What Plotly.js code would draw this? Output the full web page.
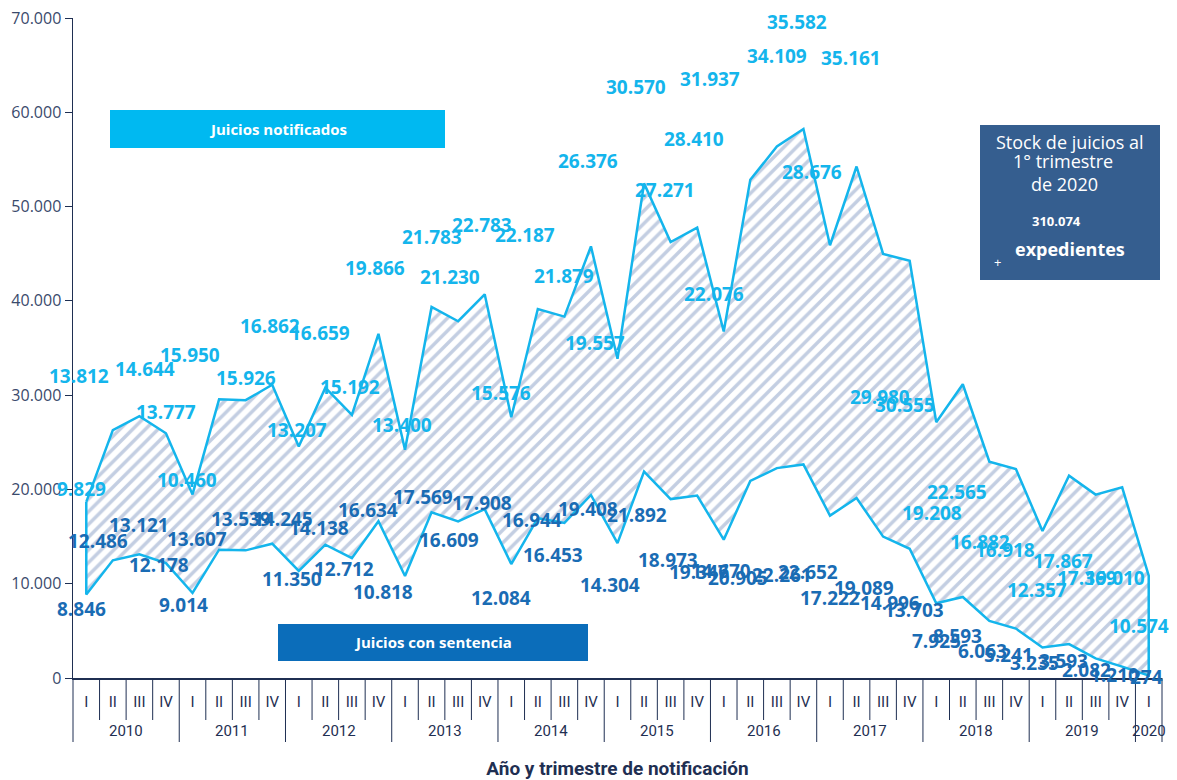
<!DOCTYPE html>
<html>
<head>
<meta charset="utf-8">
<script src="https://cdn.plot.ly/plotly-3.0.1.min.js"></script>
<style>
  html, body { margin: 0; padding: 0; background: #ffffff; }
  #chart { width: 1177px; height: 780px; }
</style>
</head>
<body>
<div id="chart"></div>
<script>
// ---------- DATA ----------
const years = ['2010','2011','2012','2013','2014','2015','2016','2017','2018','2019','2020'];
const quarters = ['I','II','III','IV'];
const nQuarters = 41;   // 2010-I ... 2020-I

// Juicios con sentencia (lower series)
const sentencia = [
  8846, 12486, 13121, 12178,
  9014, 13607, 13539, 14245,
  11350, 14138, 12712, 16634,
  10818, 17569, 16609, 17908,
  12084, 16944, 16453, 19408,
  14304, 21892, 18973, 19347,
  14670, 20905, 22261, 22652,
  17222, 19089, 14996, 13703,
  7925, 8593, 6063, 5241,
  3235, 3593, 2082, 1210,
  274
];
// Juicios notificados (stacked on top)
const notificados = [
  9829, 13812, 14644, 13777,
  10460, 15950, 15926, 16862,
  13207, 16659, 15192, 19866,
  13400, 21783, 21230, 22783,
  15576, 22187, 21879, 26376,
  19557, 30570, 27271, 28410,
  22076, 31937, 34109, 35582,
  28676, 35161, 29980, 30555,
  19208, 22565, 16882, 16918,
  12357, 17867, 17369, 19010,
  10574
];
const stockText = '310.074';

// ---------- LABEL PLACEMENT (pixel offsets, layout only) ----------
const notifDy = [-13,-54,-47,-21,-14,-44,-22,-59,-16,-55,-28,-66,-25,-70,-44,-69,-24,-74,-41,-85,-16,-96,-52,-89,-38,-101,-91,-107,-73,-109,143,144,91,108,80,81,59,85,83,91,50];
const notifDx = [-5,-34,6,0,-6,-29,0,-2,-2,-5,-2,-3,-3,0,-8,-3,-10,-13,0,-3,-23,-8,-6,-3,-10,-40,0,-6,-18,-6,-3,-5,-4,-6,-9,-11,-5,-6,-9,-7,-10];
const sentDy = [14,-19,-29,2,12,-11,-31,-25,8,-17,11,-11,16,-15,19,-6,34,2,32,14,42,43,61,76,31,97,107,108,82,90,66,61,38,39,30,26,15,17,12,8,2];
const sentDx = [-5,-15,0,-7,-9,-22,-5,11,-7,-6,-8,-10,-22,-9,-9,-3,-10,-6,-11,-3,-8,-7,-3,2,-3,-12,5,5,0,7,7,4,0,-5,-7,-7,-8,-6,-9,-8,-2];

// ---------- DERIVED ----------
const yearCat = [], quarterCat = [], cats = [];
for (let i = 0; i < nQuarters; i++) {
  yearCat.push(years[Math.floor(i / 4)]);
  quarterCat.push(quarters[i % 4]);
  cats.push(yearCat[i] + ' ' + quarterCat[i]);
}
const total = sentencia.map((s, i) => s + notificados[i]);

// closed polygon: top edge forward, bottom edge backward
const polyX = cats.concat(cats.slice().reverse(), [cats[0]]);
const polyY = total.concat(sentencia.slice().reverse(), [total[0]]);

const fmt = v => String(v).replace(/\B(?=(\d{3})+(?!\d))/g, '.');

const LIGHT = '#14b5ec';
const DARK = '#1a6cb4';
const NAVY = '#1f2f52';
const NARROW = 'Liberation Sans Narrow, Arial Narrow, Roboto, sans-serif';

const traces = [{
  type: 'scatter',
  mode: 'lines',
  x: polyX,
  y: polyY,
  fill: 'toself',
  fillcolor: '#ffffff',
  fillpattern: { shape: '/', fgcolor: '#c3cee2', bgcolor: '#ffffff', size: 9, solidity: 0.38 },
  line: { color: LIGHT, width: 2.5 },
  hoverinfo: 'skip',
  showlegend: false
}];

// ---------- geometry helpers (paper coords from pixels) ----------
const M = { l: 73, r: 15, t: 18, b: 102 };
const W = 1177, H = 780;
const pw = W - M.l - M.r, ph = H - M.t - M.b;
const px = x => (x - M.l) / pw;
const py = y => (H - M.b - y) / ph;

const annotations = [];
for (let i = 0; i < nQuarters; i++) {
  annotations.push({
    x: cats[i], y: total[i], xref: 'x', yref: 'y', xanchor: 'center', yanchor: 'middle',
    text: fmt(notificados[i]), showarrow: false,
    xshift: notifDx[i], yshift: -notifDy[i],
    font: { family: 'Open Sans, sans-serif', size: 19, color: LIGHT, weight: 'bold' }
  });
  annotations.push({
    x: cats[i], y: sentencia[i], xref: 'x', yref: 'y', xanchor: 'center', yanchor: 'middle',
    text: fmt(sentencia[i]), showarrow: false,
    xshift: sentDx[i], yshift: -sentDy[i],
    font: { family: 'Open Sans, sans-serif', size: 19, color: DARK, weight: 'bold' }
  });
}
// year labels under the quarter labels, centred on each year's quarters
years.forEach((yr, k) => {
  const first = k * 4, last = Math.min(k * 4 + 3, nQuarters - 1);
  annotations.push({
    x: (first + last) / 2, xref: 'x', y: py(731), yref: 'paper',
    xanchor: 'center', yanchor: 'middle', showarrow: false, text: yr,
    font: { family: NARROW, size: 15, color: NAVY }
  });
});

const boxText = (t, x, y, s) => annotations.push({
  xref: 'paper', yref: 'paper', x: px(x), y: py(y), xanchor: 'center', yanchor: 'middle',
  showarrow: false, text: t,
  font: { family: 'Open Sans, sans-serif', size: s, color: '#ffffff' }
});
// legend-like boxes
boxText('<b>Juicios notificados</b>', 278, 129, 15);
boxText('<b>Juicios con sentencia</b>', 433, 642, 15);
// stock box text
boxText('Stock de juicios al', 1070, 142, 18);
boxText('1° trimestre', 1063, 161, 18);
boxText('de 2020', 1064, 184, 18);
boxText('<b>' + stockText + '</b>', 1056, 221, 13);
boxText('<b>expedientes</b>', 1070, 249, 18);
boxText('+', 997, 262, 13);

const shapes = [
  { type: 'rect', xref: 'paper', yref: 'paper', x0: px(110), x1: px(445), y0: py(148), y1: py(110),
    fillcolor: '#00b9f1', line: { width: 0 }, layer: 'above' },
  { type: 'rect', xref: 'paper', yref: 'paper', x0: px(278), x1: px(588), y0: py(661), y1: py(624),
    fillcolor: '#0b6dba', line: { width: 0 }, layer: 'above' },
  { type: 'rect', xref: 'paper', yref: 'paper', x0: px(980), x1: px(1160), y0: py(280), y1: py(125),
    fillcolor: '#355e8f', line: { width: 0 }, layer: 'above' }
];
// category separators below the axis: quarter boundaries short, year boundaries long
for (let k = 0; k <= nQuarters; k++) {
  const isYear = (k % 4 === 0) || k === nQuarters;
  shapes.push({
    type: 'line', xref: 'paper', yref: 'paper',
    x0: k / nQuarters, x1: k / nQuarters,
    y0: py(678), y1: py(isYear ? 742 : 720),
    line: { color: NAVY, width: 1 }
  });
}

const layout = {
  width: W, height: H,
  margin: M,
  paper_bgcolor: '#ffffff',
  plot_bgcolor: '#ffffff',
  separators: ',.',
  showlegend: false,
  font: { family: 'Open Sans, sans-serif', color: NAVY },
  xaxis: {
    type: 'category',
    range: [-0.5, nQuarters - 0.5],
    tickmode: 'array', tickvals: cats, ticktext: quarterCat,
    showgrid: false, zeroline: false,
    showline: true, linecolor: NAVY, linewidth: 1.5,
    ticks: 'outside', ticklen: 9, tickcolor: 'rgba(0,0,0,0)',
    tickangle: 0,
    tickfont: { family: NARROW, size: 15, color: NAVY },
    title: { text: '<b>Año y trimestre de notificación</b>', standoff: 55,
             font: { family: NARROW, size: 19, color: NAVY } }
  },
  yaxis: {
    range: [0, 70000], dtick: 10000, tickformat: ',d',
    showgrid: false, zeroline: false,
    showline: true, linecolor: NAVY, linewidth: 1.5,
    ticks: 'outside', ticklen: 7, tickcolor: NAVY,
    tickfont: { family: 'Open Sans, sans-serif', size: 16, color: '#3a4a6c' }
  },
  annotations: annotations,
  shapes: shapes
};

Plotly.newPlot('chart', traces, layout, { displayModeBar: false, staticPlot: true });
</script>
</body>
</html>
